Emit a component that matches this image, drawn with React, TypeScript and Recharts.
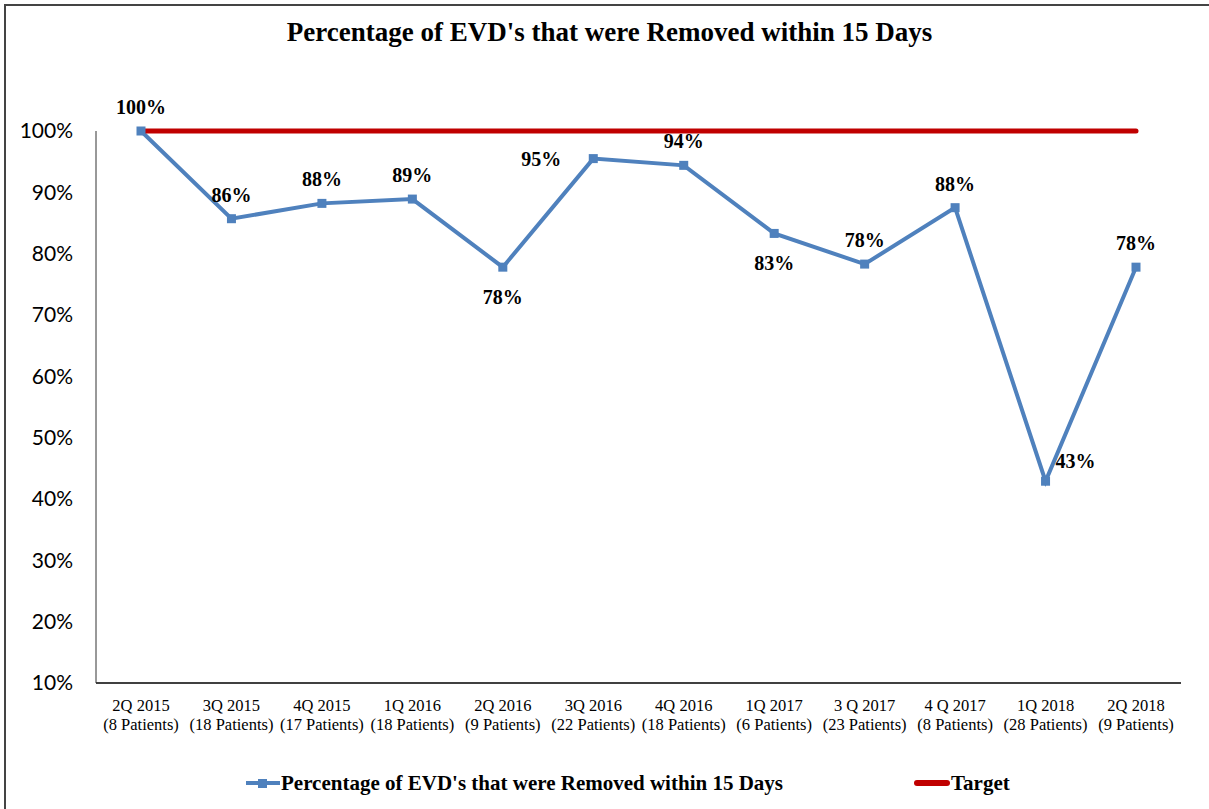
import React from "react";
import { LineChart, Line, XAxis, YAxis, Legend, LabelList } from "recharts";

const quarters = ["2Q 2015", "3Q 2015", "4Q 2015", "1Q 2016", "2Q 2016", "3Q 2016", "4Q 2016", "1Q 2017", "3 Q 2017", "4 Q 2017", "1Q 2018", "2Q 2018"];
const patients = ["(8 Patients)", "(18 Patients)", "(17 Patients)", "(18 Patients)", "(9 Patients)", "(22 Patients)", "(18 Patients)", "(6 Patients)", "(23 Patients)", "(8 Patients)", "(28 Patients)", "(9 Patients)"];
const percentRemoved = [100, 85.7, 88.2, 88.9, 77.8, 95.5, 94.4, 83.3, 78.3, 87.5, 42.9, 77.8];
const target = [100, 100, 100, 100, 100, 100, 100, 100, 100, 100, 100, 100];
const valueLabels = ["100%", "86%", "88%", "89%", "78%", "95%", "94%", "83%", "78%", "88%", "43%", "78%"];
const labelPlacement = ["top", "top", "top", "top", "bottom", "left", "top", "bottom", "top", "top", "right", "top"];
const yTicks = [10, 20, 30, 40, 50, 60, 70, 80, 90, 100];

const seriesName = "Percentage of EVD's that were Removed within 15 Days";
const BLUE = "#4F81BD";
const RED = "#C00000";
const SERIF = "'Liberation Serif', 'Times New Roman', serif";

const data = quarters.map((q, i) => ({
  quarter: q,
  patients: patients[i],
  value: percentRemoved[i],
  target: target[i],
  label: valueLabels[i],
}));

const XTick = (props: any) => {
  const { x, y, payload, index } = props;
  return (
    <g transform={`translate(${x},${y})`}>
      <text textAnchor="middle" fontFamily={SERIF} fontSize={16.5} fill="#000">
        <tspan x={0} dy={26}>{payload.value}</tspan>
        <tspan x={0} dy={19}>{patients[index]}</tspan>
      </text>
    </g>
  );
};

const PointLabel = (props: any) => {
  const { x, y, index } = props;
  const pos = labelPlacement[index];
  let tx = x;
  let ty = y;
  let anchor: any = "middle";
  if (pos === "top") ty = y - 17;
  else if (pos === "bottom") ty = y + 37;
  else if (pos === "left") { tx = x - 32; ty = y + 7; anchor = "end"; }
  else if (pos === "right") { tx = x + 10; ty = y - 13; anchor = "start"; }
  return (
    <text x={tx} y={ty} textAnchor={anchor} fontFamily={SERIF} fontWeight="bold" fontSize={20} fill="#000">
      {valueLabels[index]}
    </text>
  );
};

const LegendContent = () => (
  <div style={{ height: 36, display: "flex", alignItems: "center", fontFamily: SERIF, fontWeight: "bold", fontSize: 21, color: "#000", paddingLeft: 246 }}>
    <svg width={34} height={14} style={{ marginRight: 1 }}>
      <line x1={0} y1={7} x2={34} y2={7} stroke={BLUE} strokeWidth={4} />
      <rect x={12} y={3} width={9} height={9} fill={BLUE} />
    </svg>
    <span>{seriesName}</span>
    <svg width={36} height={14} style={{ marginLeft: 131, marginRight: 1 }}>
      <line x1={3} y1={7} x2={33} y2={7} stroke={RED} strokeWidth={6} strokeLinecap="round" />
    </svg>
    <span>Target</span>
  </div>
);

const SquareDot = (props: any) => {
  const { cx, cy } = props;
  if (cx == null || cy == null) return null;
  return <rect x={cx - 4.5} y={cy - 4.5} width={9} height={9} fill={BLUE} />;
};

export default function App() {
  return (
    <div style={{ position: "fixed", left: 0, top: 0, width: 1209, height: 809, overflow: "hidden", background: "#fff" }}>
      <div style={{ position: "absolute", left: 4, top: 4, width: 1300, height: 900, borderLeft: "2px solid #444", borderTop: "2px solid #444" }} />
      <div style={{ position: "absolute", left: 0, top: 17, width: 1219, textAlign: "center", fontFamily: SERIF, fontWeight: "bold", fontSize: 27, color: "#000" }}>
        Percentage of EVD's that were Removed within 15 Days
      </div>
      <div style={{ position: "absolute", left: 0, top: 0 }}>
        <LineChart width={1209} height={809} data={data} margin={{ top: 131, right: 28, left: 0, bottom: 8 }}>
          <XAxis
            dataKey="quarter"
            height={82}
            interval={0}
            padding={{ left: 45, right: 45 }}
            tickLine={false}
            tickSize={0}
            tick={<XTick />}
            axisLine={{ stroke: "#000", strokeWidth: 1.5 }}
          />
          <YAxis
            width={96}
            domain={[10, 100]}
            ticks={yTicks}
            tickFormatter={(v: number) => `${v}%`}
            tickLine={false}
            tickSize={0}
            tickMargin={23}
            axisLine={{ stroke: "#333", strokeWidth: 1 }}
            tick={{ fontFamily: "Lato, 'Noto Sans', sans-serif", fontSize: 21, fill: "#000" }}
          />
          <Line
            dataKey="value"
            name={seriesName}
            stroke={BLUE}
            strokeWidth={4}
            dot={<SquareDot />}
            activeDot={false}
            isAnimationActive={false}
          >
            <LabelList dataKey="label" content={<PointLabel />} />
          </Line>
          <Line
            dataKey="target"
            name="Target"
            stroke={RED}
            strokeWidth={5}
            strokeLinecap="round"
            dot={false}
            activeDot={false}
            isAnimationActive={false}
          />
          <Legend verticalAlign="bottom" height={36} content={<LegendContent />} />
        </LineChart>
      </div>
    </div>
  );
}
